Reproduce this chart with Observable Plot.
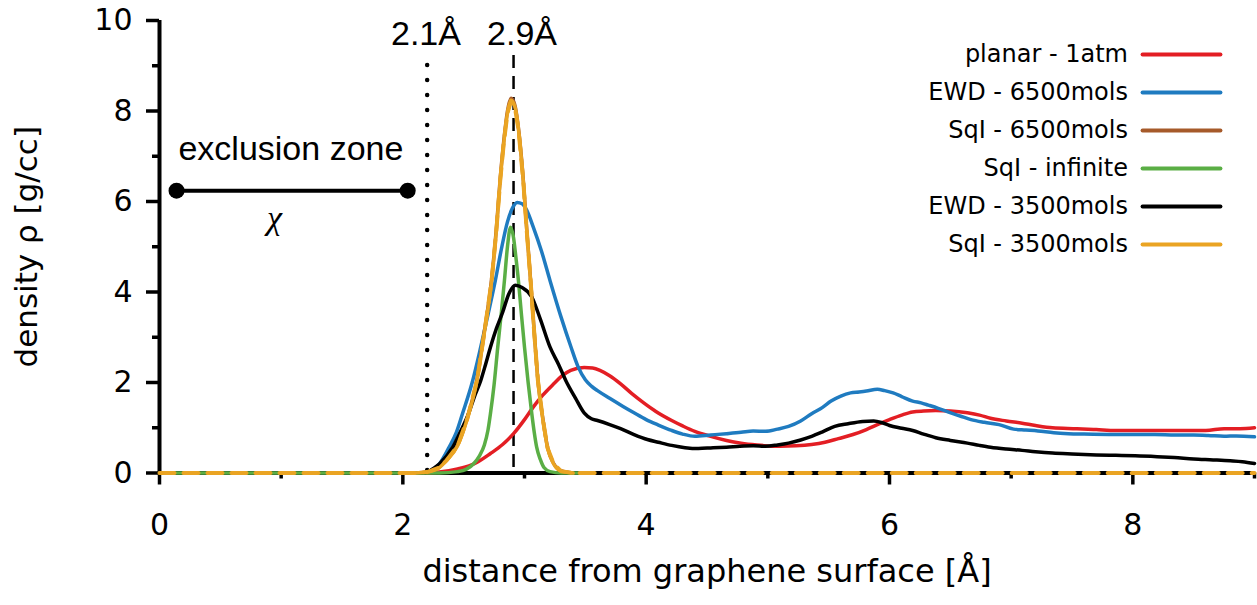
<!DOCTYPE html>
<html><head><meta charset="utf-8">
<script src="https://cdn.jsdelivr.net/npm/d3@7"></script>
<script src="https://cdn.jsdelivr.net/npm/@observablehq/plot@0.6"></script>
<style>body{margin:0;background:#fff}</style>
</head><body><div id="chart"></div>
<script>
// ---- data ----
const seriesNames = ["planar - 1atm", "EWD - 6500mols", "SqI - 6500mols", "SqI - infinite", "EWD - 3500mols", "SqI - 3500mols"];
const seriesColors = ["#e31e24", "#1f7bc0", "#a65a2a", "#5aae45", "#000000", "#eaa423"];

const planar1atm = [[2.2,0],[2.3,0.02],[2.45,0.09],[2.6,0.22],[2.72,0.43],[2.82,0.63],[2.91,0.87],[3.0,1.18],[3.07,1.45],[3.15,1.72],[3.24,1.97],[3.31,2.15],[3.38,2.27],[3.49,2.33],[3.56,2.32],[3.62,2.27],[3.7,2.15],[3.79,1.97],[3.88,1.76],[3.98,1.55],[4.08,1.36],[4.21,1.16],[4.3,1.04],[4.4,0.92],[4.53,0.81],[4.66,0.72],[4.78,0.66],[4.91,0.62],[5.1,0.59],[5.23,0.6],[5.36,0.63],[5.47,0.68],[5.58,0.76],[5.7,0.85],[5.81,0.96],[5.9,1.07],[6.0,1.18],[6.1,1.28],[6.19,1.35],[6.28,1.37],[6.38,1.38],[6.5,1.37],[6.64,1.33],[6.74,1.28],[6.83,1.21],[6.96,1.15],[7.09,1.1],[7.2,1.05],[7.34,1.0],[7.54,0.98],[7.7,0.96],[7.86,0.94],[8.0,0.94],[8.18,0.94],[8.4,0.94],[8.6,0.94],[8.75,0.98],[8.88,0.98],[9.0,1.0]];

const ewd6500 = [[2.2,0.02],[2.3,0.2],[2.38,0.57],[2.44,0.9],[2.49,1.31],[2.57,2.0],[2.64,2.78],[2.7,3.5],[2.76,4.25],[2.81,4.95],[2.86,5.55],[2.9,5.85],[2.94,5.98],[2.98,5.95],[3.02,5.8],[3.07,5.45],[3.14,4.9],[3.21,4.25],[3.3,3.45],[3.38,2.8],[3.44,2.35],[3.5,2.06],[3.55,1.92],[3.6,1.82],[3.7,1.65],[3.81,1.47],[3.9,1.33],[4.0,1.18],[4.1,1.06],[4.21,0.94],[4.3,0.86],[4.4,0.81],[4.53,0.84],[4.66,0.87],[4.78,0.9],[4.88,0.93],[4.98,0.92],[5.08,0.97],[5.17,1.03],[5.27,1.15],[5.36,1.31],[5.45,1.45],[5.52,1.59],[5.6,1.7],[5.68,1.77],[5.75,1.79],[5.81,1.81],[5.9,1.85],[5.96,1.82],[6.03,1.77],[6.1,1.69],[6.19,1.59],[6.26,1.55],[6.32,1.5],[6.4,1.43],[6.48,1.35],[6.58,1.26],[6.67,1.18],[6.78,1.12],[6.9,1.07],[7.02,0.97],[7.12,0.95],[7.22,0.93],[7.35,0.89],[7.47,0.87],[7.6,0.86],[7.86,0.85],[8.0,0.85],[8.18,0.85],[8.35,0.84],[8.5,0.84],[8.62,0.83],[8.75,0.81],[8.85,0.82],[9.0,0.8]];

const sqi6500 = [[2.1,0],[2.2,0.02],[2.3,0.13],[2.36,0.29],[2.45,0.62],[2.53,1.22],[2.61,2.08],[2.67,3.13],[2.73,4.3],[2.77,5.45],[2.8,6.5],[2.83,7.35],[2.86,8.0],[2.89,8.28],[2.92,8.14],[2.95,7.63],[2.99,6.48],[3.02,5.33],[3.05,4.27],[3.08,3.12],[3.11,2.07],[3.15,1.22],[3.19,0.56],[3.24,0.21],[3.3,0.05],[3.4,0]];

const sqiInfinite = [[0,0],[2.3,0],[2.45,0.03],[2.52,0.08],[2.58,0.2],[2.63,0.38],[2.67,0.62],[2.7,0.95],[2.72,1.31],[2.75,1.95],[2.78,2.78],[2.81,3.55],[2.835,4.25],[2.86,5.0],[2.885,5.43],[2.91,5.2],[2.93,4.75],[2.95,4.25],[2.975,3.5],[3.0,2.78],[3.03,2.0],[3.06,1.31],[3.08,0.9],[3.1,0.57],[3.13,0.3],[3.16,0.12],[3.21,0.03],[3.3,0],[3.5,0]];

const ewd3500 = [[2.2,0.02],[2.3,0.2],[2.41,0.57],[2.48,0.95],[2.54,1.31],[2.59,1.7],[2.64,2.04],[2.68,2.4],[2.72,2.78],[2.77,3.2],[2.82,3.55],[2.87,3.95],[2.925,4.15],[2.98,4.1],[3.06,3.89],[3.13,3.4],[3.21,2.78],[3.28,2.4],[3.34,2.04],[3.42,1.65],[3.49,1.33],[3.55,1.2],[3.6,1.16],[3.7,1.07],[3.79,0.98],[3.9,0.85],[4.01,0.74],[4.1,0.68],[4.21,0.61],[4.32,0.56],[4.43,0.54],[4.55,0.56],[4.66,0.57],[4.77,0.59],[4.88,0.6],[4.98,0.59],[5.08,0.62],[5.17,0.66],[5.27,0.73],[5.36,0.81],[5.45,0.91],[5.55,1.03],[5.66,1.09],[5.78,1.14],[5.87,1.15],[5.94,1.11],[6.0,1.05],[6.1,0.99],[6.19,0.94],[6.28,0.86],[6.38,0.78],[6.5,0.72],[6.64,0.66],[6.74,0.61],[6.83,0.57],[6.96,0.53],[7.09,0.5],[7.2,0.47],[7.34,0.44],[7.5,0.42],[7.7,0.4],[7.86,0.39],[8.02,0.38],[8.2,0.36],[8.34,0.34],[8.5,0.31],[8.66,0.29],[8.8,0.27],[8.9,0.25],[9.0,0.21]];

const sqi3500 = [[0,0],[2.1,0],[2.2,0.02],[2.3,0.12],[2.36,0.28],[2.45,0.6],[2.53,1.2],[2.61,2.05],[2.67,3.1],[2.73,4.25],[2.77,5.4],[2.8,6.45],[2.83,7.3],[2.86,7.95],[2.89,8.23],[2.92,8.1],[2.95,7.6],[2.99,6.45],[3.02,5.3],[3.05,4.25],[3.08,3.1],[3.11,2.05],[3.15,1.2],[3.19,0.55],[3.24,0.2],[3.3,0.04],[3.4,0],[9.0,0]];

const xMajorTicks = [0, 2, 4, 6, 8];
const xMinorTicks = [1, 3, 5, 7, 9];
const yMajorTicks = [0, 2, 4, 6, 8, 10];
const yMinorTicks = [1, 3, 5, 7, 9];

const exclusionEdge = 2.2;     // dotted line position
const firstPeak = 2.91;        // dashed line position
const markerLabels = ["2.1Å", "2.9Å"];
const exclusionText = "exclusion zone";
const chiText = "χ";
const arrowSpan = [0.14, 2.04];
const arrowLevel = 6.24;

// ---- table ----
const seriesData = [planar1atm, ewd6500, sqi6500, sqiInfinite, ewd3500, sqi3500];
const rows = [];
seriesData.forEach((arr, k) => arr.forEach(([x, y]) => rows.push({series: seriesNames[k], k, x, y})));
const of = k => rows.filter(d => d.k === k);

const W = 1257, H = 605;
const mL = 159, mR = 3, mT = 20, mB = 132.5;
const yPx = p => 10 * (H - mB - p) / (H - mB - mT); // layout helper pixel->data for legend

const lineOpts = k => ({x: "x", y: "y", stroke: seriesColors[k], strokeWidth: 3.5, curve: "monotone-x", strokeLinejoin: "round"});

const legendRows = seriesNames.map((name, i) => ({name, color: seriesColors[i], y: yPx(54 + 38 * i)}));

const chart = Plot.plot({
  width: W, height: H,
  marginLeft: mL, marginRight: mR, marginTop: mT, marginBottom: mB,
  x: {domain: [0, 9]},
  y: {domain: [0, 10]},
  style: {fontFamily: "DejaVu Sans", background: "white", overflow: "visible", color: "black"},
  marks: [
    Plot.ruleY([0], {stroke: "black", strokeWidth: 4}),
    Plot.ruleX([0], {stroke: "black", strokeWidth: 4}),
    Plot.axisX({ticks: xMajorTicks, tickSize: 12, tickPadding: 29, fontSize: 30, strokeWidth: 3.5, label: null, tickFormat: d => String(d)}),
    Plot.axisX({ticks: xMinorTicks, tickSize: 6, strokeWidth: 3.5, label: null, tickFormat: () => ""}),
    Plot.axisY({ticks: yMajorTicks, tickSize: 13, tickPadding: 14, fontSize: 30, strokeWidth: 3.5, label: null, tickFormat: d => String(d)}),
    Plot.axisY({ticks: yMinorTicks, tickSize: 7, strokeWidth: 3.5, label: null, tickFormat: () => ""}),
    // reference lines
    Plot.ruleX([exclusionEdge], {y1: yPx(65), y2: 0, stroke: "black", strokeWidth: 4.5, strokeDasharray: "0,15", strokeLinecap: "round"}),
    Plot.ruleX([firstPeak], {y1: yPx(55), y2: 0, stroke: "black", strokeWidth: 2.5, strokeDasharray: "13,8"}),
    // curves
    Plot.line(of(0), lineOpts(0)),
    Plot.line(of(1), lineOpts(1)),
    Plot.line(of(2), lineOpts(2)),
    Plot.line(of(3), lineOpts(3)),
    Plot.line(of(4), lineOpts(4)),
    Plot.line(of(5), {...lineOpts(5), strokeWidth: 4, strokeDasharray: "15,9", curve: "linear"}),
    Plot.line(of(5).filter(d => d.x >= 2.1 && d.x <= 3.4), lineOpts(5)),
    // annotations
    Plot.text(markerLabels, {x: [2.19, 2.98], y: [yPx(34), yPx(34)], fontFamily: "Liberation Sans", fontSize: 34, textAnchor: "middle", fill: "black"}),
    Plot.text([exclusionText], {x: [1.08], y: [yPx(149)], fontFamily: "Liberation Sans", fontSize: 34, textAnchor: "middle", fill: "black"}),
    Plot.link([arrowSpan], {x1: d => d[0], x2: d => d[1], y1: arrowLevel, y2: arrowLevel, stroke: "black", strokeWidth: 4}),
    Plot.dot(arrowSpan, {x: d => d, y: arrowLevel, r: 8, fill: "black", stroke: null}),
    Plot.text([chiText], {x: [0.945], y: [yPx(218)], fontFamily: "Liberation Serif", fontStyle: "italic", fontSize: 34, textAnchor: "middle", fill: "black"}),
    // axis titles
    Plot.text(["distance from graphene surface [Å]"], {frameAnchor: "bottom", textAnchor: "middle", dy: 592 - 472.5 - 0.32 * 32, fontSize: 32, fill: "black"}),
    Plot.text(["density ρ [g/cc]"], {frameAnchor: "left", textAnchor: "middle", rotate: -90, dx: 27 - mL, fontSize: 31, fill: "black"}),
    // legend
    Plot.text(legendRows, {x: 7.96, y: "y", text: "name", textAnchor: "end", fontSize: 24, fill: "black"}),
    Plot.link(legendRows, {x1: 8.08, x2: 8.72, y1: "y", y2: "y", stroke: "color", strokeWidth: 4, strokeLinecap: "round"})
  ]
});
document.getElementById("chart").appendChild(chart);
</script>
</body></html>
